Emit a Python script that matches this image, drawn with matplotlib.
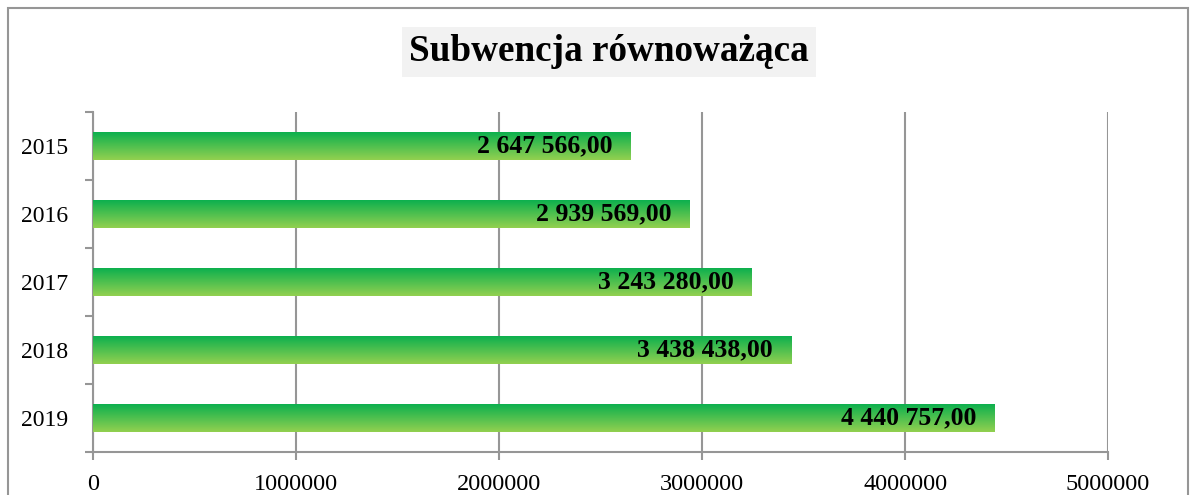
import numpy as np
import matplotlib.pyplot as plt
import matplotlib as mpl
from matplotlib.colors import LinearSegmentedColormap
from matplotlib.patches import Rectangle

mpl.rcParams['font.family'] = 'serif'
mpl.rcParams['font.serif'] = ['Liberation Serif', 'DejaVu Serif']

# data
years = ['2015', '2016', '2017', '2018', '2019']
values = [2647566.00, 2939569.00, 3243280.00, 3438438.00, 4440757.00]
labels = ['2 647 566,00', '2 939 569,00', '3 243 280,00', '3 438 438,00', '4 440 757,00']
xticks = [0, 1000000, 2000000, 3000000, 4000000, 5000000]

grey = '#969696'
cmap = LinearSegmentedColormap.from_list('grn', ['#0db04e', '#92d050'])
grad = np.linspace(0, 1, 64).reshape(-1, 1)

fig = plt.figure(figsize=(11.96, 4.95), dpi=100)
ax = fig.add_axes([0.0778, 0.0869, 0.8487, 0.6869])

# outer chart border
fig.patches.append(Rectangle((8 / 1196, -0.1), 1180 / 1196, 1.1 - 8 / 495,
                             transform=fig.transFigure, fill=False,
                             edgecolor=grey, lw=1.5, clip_on=False))

h = 0.41
for i, v in enumerate(values):
    ax.imshow(grad, cmap=cmap, aspect='auto', origin='upper',
              extent=(0, v, i + h / 2, i - h / 2), zorder=3)
    ax.annotate(labels[i], (v, i), xytext=(-13, 0), textcoords='offset points',
                ha='right', va='center', fontsize=18.5, fontweight='bold', zorder=4)

ax.set_xlim(0, 5000000)
ax.set_ylim(4.5, -0.5)
ax.set_xticks(xticks)
ax.set_xticklabels([str(x) for x in xticks], fontsize=17.5)
ax.set_yticks(range(len(years)))
ax.set_yticklabels(years, fontsize=17)
ax.tick_params(axis='y', length=0, pad=18)
ax.set_yticks(np.arange(-0.5, 5, 1), minor=True)
ax.tick_params(axis='y', which='minor', length=6, width=1.5, color=grey, direction='out')
ax.tick_params(axis='x', length=6, width=1.5, color=grey, pad=10)
ax.grid(axis='x', color=grey, lw=1.5, zorder=0)
ax.set_axisbelow(True)
for s in ['top', 'right']:
    ax.spines[s].set_visible(False)
for s in ['left', 'bottom']:
    ax.spines[s].set_color(grey)
    ax.spines[s].set_linewidth(1.5)

fig.text(0.509, 0.895, 'Subwencja równoważąca', ha='center', va='center',
         fontsize=26.7, fontweight='bold',
         bbox=dict(facecolor='#f2f2f2', edgecolor='none', pad=5))

fig.savefig('out.png', dpi=100)
